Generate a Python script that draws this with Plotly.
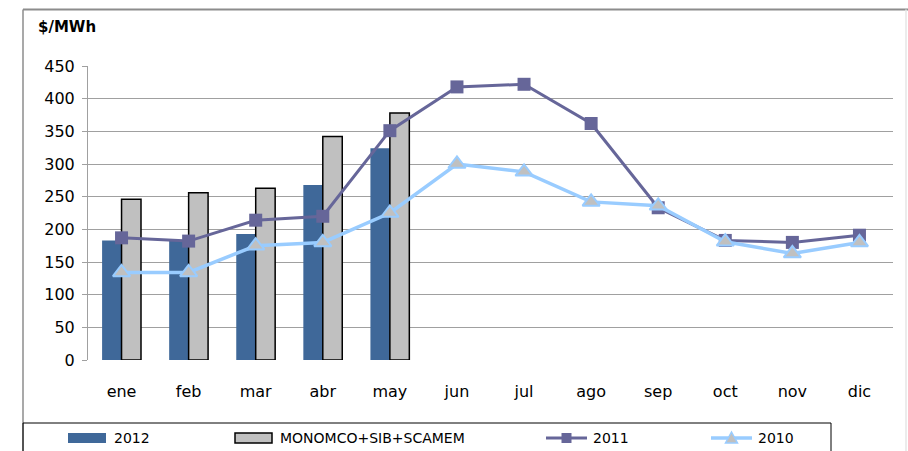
import plotly.graph_objects as go

# Monthly energy prices ($/MWh)
months = ["ene", "feb", "mar", "abr", "may", "jun", "jul", "ago", "sep", "oct", "nov", "dic"]
price_2012 = [183, 183, 193, 268, 324]
monomico = [246, 256, 263, 342, 378]
price_2011 = [187, 182, 214, 220, 351, 418, 422, 362, 233, 183, 180, 191]
price_2010 = [134, 134, 175, 180, 225, 300, 288, 242, 236, 181, 163, 180]
y_ticks = [0, 50, 100, 150, 200, 250, 300, 350, 400, 450]

series_names = ["2012", "MONOMCO+SIB+SCAMEM", "2011", "2010"]

C_2012 = "#3F6899"
C_MONO = "#C0C0C0"
C_2011 = "#666699"
C_2010 = "#99CCFF"
GRID = "#A0A0A0"
FONT = "DejaVu Sans"

W, H = 908, 451
ML, MR, MT, MB = 88, 15, 66, 91
PW, PH = W - ML - MR, H - MT - MB


def fx(p):
    return (p - ML) / PW


def fy(p):
    return (H - MB - p) / PH


fig = go.Figure()
fig.add_trace(go.Bar(x=months[:len(price_2012)], y=price_2012, name=series_names[0],
                     marker=dict(color=C_2012, line=dict(width=0))))
fig.add_trace(go.Bar(x=months[:len(monomico)], y=monomico, name=series_names[1],
                     marker=dict(color=C_MONO, line=dict(color="#000000", width=1.5))))
fig.add_trace(go.Scatter(x=months, y=price_2011, name=series_names[2], mode="lines+markers",
                         line=dict(color=C_2011, width=3),
                         marker=dict(symbol="square", size=13, color=C_2011)))
fig.add_trace(go.Scatter(x=months, y=price_2010, name=series_names[3], mode="lines+markers",
                         line=dict(color=C_2010, width=3.5),
                         marker=dict(symbol="triangle-up", size=15, color=C_MONO,
                                     line=dict(color=C_2010, width=2))))

shapes = []
# outer chart frame
shapes.append(dict(type="line", xref="paper", yref="paper", x0=fx(23), x1=fx(908), y0=fy(9.5), y1=fy(9.5),
                   line=dict(color="#8C8C8C", width=2), layer="above"))
shapes.append(dict(type="line", xref="paper", yref="paper", x0=fx(23), x1=fx(23), y0=fy(9.5), y1=fy(460),
                   line=dict(color="#8C8C8C", width=1.5), layer="above"))
shapes.append(dict(type="line", xref="paper", yref="paper", x0=fx(906), x1=fx(906), y0=fy(9.5), y1=fy(460),
                   line=dict(color="#E6E6E6", width=1.5), layer="above"))
# legend box
shapes.append(dict(type="rect", xref="paper", yref="paper", x0=fx(23), x1=fx(831), y0=fy(423), y1=fy(470),
                   line=dict(color="#000000", width=1), fillcolor="rgba(0,0,0,0)", layer="above"))
# legend swatches
ly = 438
shapes.append(dict(type="rect", xref="paper", yref="paper", x0=fx(68), x1=fx(106), y0=fy(433), y1=fy(443),
                   line=dict(width=0), fillcolor=C_2012, layer="above"))
shapes.append(dict(type="rect", xref="paper", yref="paper", x0=fx(235), x1=fx(272), y0=fy(433), y1=fy(443),
                   line=dict(color="#000000", width=1.5), fillcolor=C_MONO, layer="above"))
shapes.append(dict(type="line", xref="paper", yref="paper", x0=fx(546), x1=fx(587), y0=fy(ly), y1=fy(ly),
                   line=dict(color=C_2011, width=3), layer="above"))
shapes.append(dict(type="rect", xref="paper", yref="paper", xsizemode="pixel", ysizemode="pixel",
                   xanchor=fx(566.5), yanchor=fy(ly), x0=-5, x1=5, y0=-5, y1=5,
                   line=dict(width=0), fillcolor=C_2011, layer="above"))
shapes.append(dict(type="line", xref="paper", yref="paper", x0=fx(711), x1=fx(752), y0=fy(ly), y1=fy(ly),
                   line=dict(color=C_2010, width=3.5), layer="above"))
shapes.append(dict(type="path", xref="paper", yref="paper", xsizemode="pixel", ysizemode="pixel",
                   xanchor=fx(731.5), yanchor=fy(ly), path="M -6 -5 L 6 -5 L 0 6 Z",
                   line=dict(color=C_2010, width=1.5), fillcolor=C_MONO, layer="above"))

annotations = [
    dict(text="<b>$/MWh</b>", xref="paper", yref="paper", x=fx(36), y=fy(27), xanchor="left",
         yanchor="middle", showarrow=False, font=dict(family=FONT, size=15, color="#000000")),
]
for name, px in zip(series_names, [112, 278, 591, 756]):
    annotations.append(dict(text=name, xref="paper", yref="paper", x=fx(px), y=fy(ly), xanchor="left",
                            yanchor="middle", showarrow=False,
                            font=dict(family=FONT, size=14, color="#000000")))

fig.update_layout(
    width=W, height=H,
    margin=dict(l=ML, r=MR, t=MT, b=MB, autoexpand=False),
    paper_bgcolor="#FFFFFF", plot_bgcolor="#FFFFFF",
    barmode="group", bargap=0.42, bargroupgap=0,
    showlegend=False,
    font=dict(family=FONT, size=16, color="#000000"),
    shapes=shapes, annotations=annotations,
    xaxis=dict(type="category", categoryorder="array", categoryarray=months,
               range=[-0.5, len(months) - 0.5],
               showgrid=False, showline=False, zeroline=False, ticks="",
               ticklabelstandoff=20, tickfont=dict(family=FONT, size=16, color="#000000")),
    yaxis=dict(range=[0, 450], tickvals=y_ticks, showgrid=True, gridcolor=GRID, gridwidth=1,
               zeroline=False, showline=True, linecolor=GRID, linewidth=1,
               ticks="outside", ticklen=5, tickcolor=GRID, ticklabelstandoff=4,
               tickfont=dict(family=FONT, size=16, color="#000000")),
)

fig.write_html("out.html")
